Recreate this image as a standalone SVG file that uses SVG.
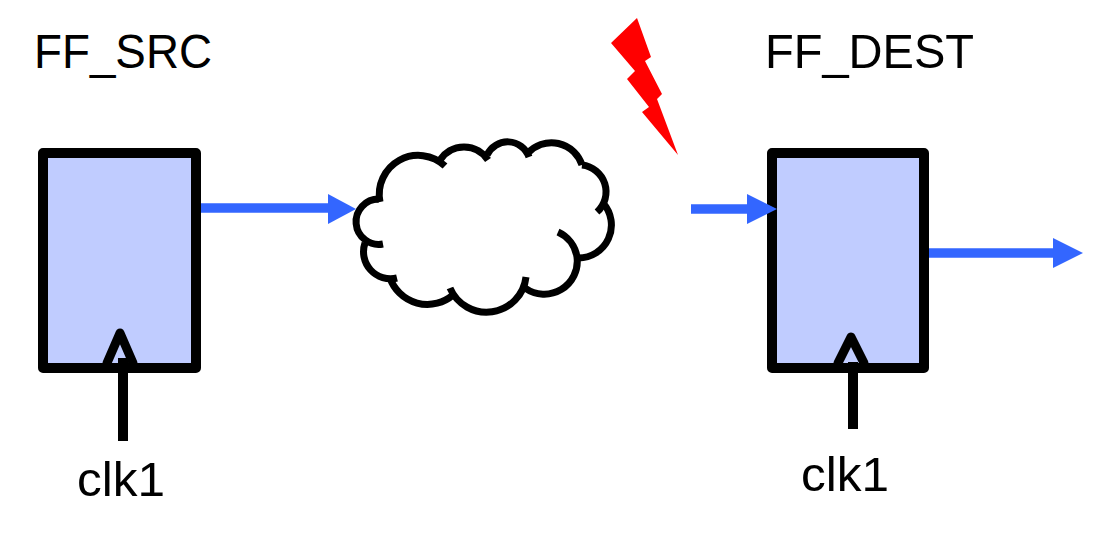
<svg xmlns="http://www.w3.org/2000/svg" width="1113" height="543" viewBox="0 0 1113 543">
<style>
.box{fill:#c0ccff;stroke:#000;stroke-width:10;stroke-linejoin:round}
.k{fill:none;stroke:#000;stroke-width:9;stroke-linejoin:round;stroke-linecap:round}
.kl{fill:none;stroke:#000;stroke-width:10}
.b{fill:none;stroke:#3366ff;stroke-width:9.5}
.h{fill:#3366ff}
.t{font-family:"Liberation Sans",Arial,sans-serif;fill:#000;font-size:49px}
.c{fill:none;stroke:#000;stroke-width:7}
</style>
<rect width="1113" height="543" fill="#fff"/>
<g id="ff_src">
<rect class="box" x="43" y="153" width="153" height="215"/>
<polyline class="k" points="107,363 120,333 133,363"/>
<text class="t" x="34" y="68" textLength="178" lengthAdjust="spacingAndGlyphs">FF_SRC</text>
</g>
<g id="ff_dest">
<rect class="box" x="772" y="153" width="152" height="215"/>
<polyline class="k" points="838,363 851,337 864,363"/>
<text class="t" x="765" y="68" textLength="209" lengthAdjust="spacingAndGlyphs">FF_DEST</text>
</g>
<g id="cloud">
<path class="c" d="M380,202A39,39 0 0 1 445,166"/>
<path class="c" d="M440,160A28.6,28.6 0 0 1 488,160"/>
<path class="c" d="M487,155A22.7,22.7 0 0 1 529,157"/>
<path class="c" d="M528,153A32,32 0 0 1 582,165"/>
<path class="c" d="M582,165A27,27 0 0 1 597,212"/>
<path class="c" d="M603,203A33,33 0 0 1 578,258"/>
<path class="c" d="M558,232A33,33 0 0 1 577,257A33,33 0 0 1 525,288"/>
<path class="c" d="M526,277A39.7,39.7 0 0 1 450,288"/>
<path class="c" d="M453,295A39.6,39.6 0 0 1 390,278"/>
<path class="c" d="M397,278A27,27 0 0 1 365,243"/>
<path class="c" d="M383,244A22.7,22.7 0 1 1 379,199"/>
</g>
<g id="lightning">
<polygon fill="#ff0000" points="637,18 651,57 645,61 662,94 657,99 678,155 642,112 649,107 627,79 635,71 611,43"/>
</g>
<g id="clk1_a"><text class="t" x="77" y="496" textLength="88" lengthAdjust="spacingAndGlyphs">clk1</text></g>
<g id="clk1_b"><text class="t" x="801" y="491" textLength="88" lengthAdjust="spacingAndGlyphs">clk1</text></g>
<g id="connectors">
<line class="b" x1="201" y1="208" x2="332" y2="208"/>
<polygon class="h" points="328,194 356,209 328,224"/>
<line class="b" x1="691" y1="209" x2="750" y2="209"/>
<polygon class="h" points="747,194 777,209 747,224"/>
<line class="b" x1="929" y1="253" x2="1056" y2="253"/>
<polygon class="h" points="1053,238 1083,253 1053,268"/>
<line class="kl" x1="123" y1="358" x2="123" y2="441"/>
<line class="kl" x1="853" y1="362" x2="853" y2="429"/>
</g>
</svg>
